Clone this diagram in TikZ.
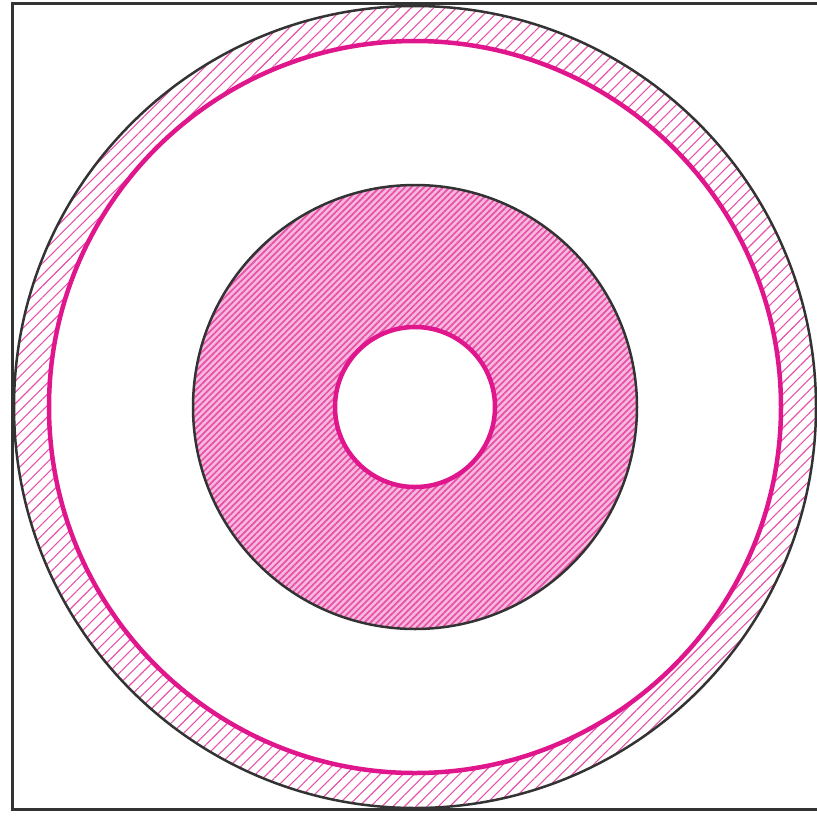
\documentclass[tikz,border=0pt]{standalone}
\usetikzlibrary{patterns.meta}
\definecolor{rim}{HTML}{E0168C}
\tikzset{
  frame/.style     ={draw=black!80, line width=3pt},
  outline/.style   ={draw=black!80, line width=2.5pt},
  pinkline/.style  ={draw=rim, line width=4.5pt},
  thinhatch/.style ={pattern={Lines[angle=45, distance=8pt, line width=1.1pt]}, pattern color=rim!75},
  densehatch/.style={pattern={Lines[angle=45, distance=4.5pt, line width=1.7pt]}, pattern color=rim!75},
}
\begin{document}
\begin{tikzpicture}[x=1pt, y=-1pt]
  \useasboundingbox (0,0) rectangle (817,815);
  \clip (0,0) rectangle (817,815);
  \coordinate (O) at (415,407);
  % frame, open to the right
  \draw[frame] (12,3) rectangle (840,809);
  % outer hatched ring
  \path[thinhatch, even odd rule] (O) circle (401pt) (O) circle (366pt);
  \draw[outline] (O) circle (401pt);
  \draw[pinkline] (O) circle (366pt);
  % core disc with hole
  \fill[rim!30] (O) circle (222pt);
  \path[densehatch] (O) circle (222pt);
  \draw[outline] (O) circle (222pt);
  \fill[white] (O) circle (80pt);
  \draw[pinkline] (O) circle (80pt);
\end{tikzpicture}
\end{document}
